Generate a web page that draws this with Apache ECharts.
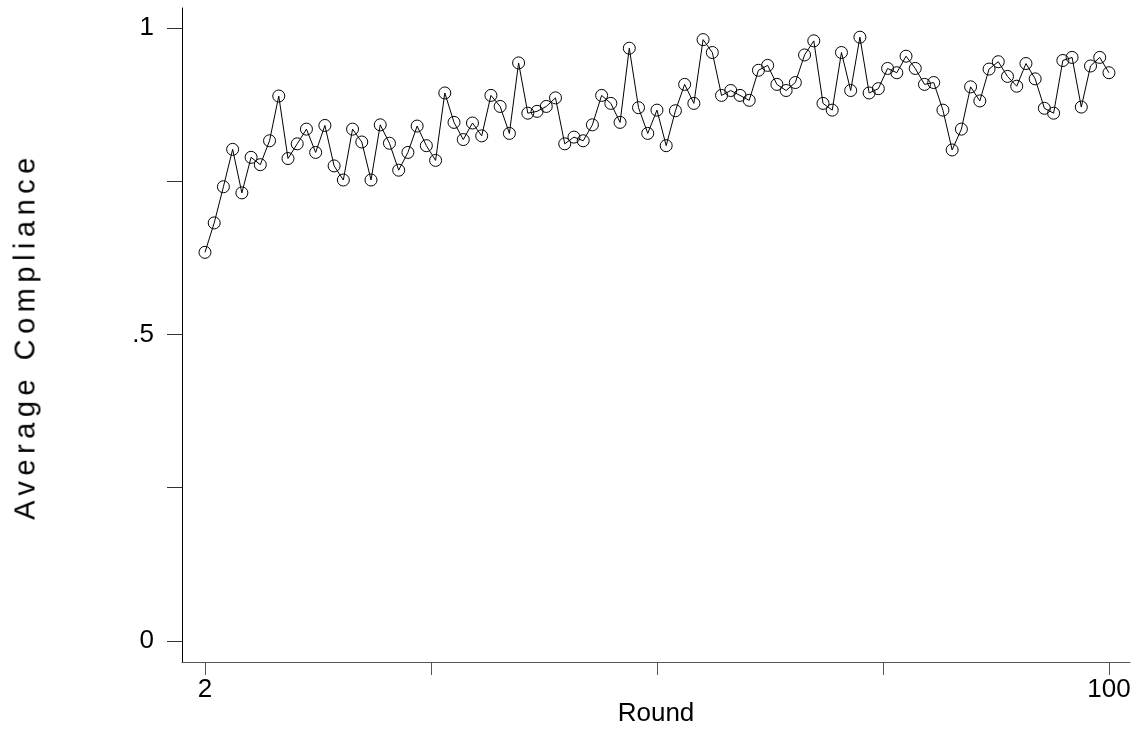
<!DOCTYPE html>
<html>
<head>
<meta charset="utf-8">
<script src="https://cdn.jsdelivr.net/npm/echarts@6/dist/echarts.min.js"></script>
<style>
	html, body { margin: 0; padding: 0; background: #fff; }
	#wrap { position: relative; width: 1140px; height: 733px; }
	#main { width: 1140px; height: 733px; }
	#ytitle {
		position: absolute; left: 25px; top: 336px;
		transform: translate(-50%, -50%) rotate(-90deg);
		font-family: 'Liberation Sans', Arial, sans-serif;
		font-size: 29px; letter-spacing: 5.5px; white-space: nowrap; color: #000;
	}
</style>
</head>
<body>
<div id="wrap">
	<div id="main"></div>
	<div id="ytitle">Average Compliance</div>
</div>
<script>
// rounds 2..100
var rounds = [];
for(var r = 2; r <= 100; r++) {
	rounds.push(r);
}
var compliance = [
	0.634, 0.682, 0.741, 0.802, 0.731, 0.789, 0.777, 0.816, 0.889, 0.787,
	0.811, 0.835, 0.797, 0.841, 0.775, 0.752, 0.835, 0.814, 0.752, 0.842,
	0.812, 0.768, 0.797, 0.840, 0.808, 0.784, 0.894, 0.846, 0.818, 0.845,
	0.824, 0.890, 0.872, 0.828, 0.943, 0.861, 0.864, 0.872, 0.886, 0.811,
	0.822, 0.816, 0.842, 0.890, 0.877, 0.846, 0.967, 0.870, 0.828, 0.866,
	0.808, 0.865, 0.908, 0.877, 0.981, 0.960, 0.890, 0.898, 0.890, 0.882,
	0.931, 0.939, 0.908, 0.898, 0.911, 0.956, 0.979, 0.877, 0.866, 0.960,
	0.898, 0.985, 0.894, 0.901, 0.934, 0.927, 0.954, 0.934, 0.908, 0.911,
	0.866, 0.801, 0.835, 0.904, 0.881, 0.933, 0.945, 0.921, 0.905, 0.942,
	0.917, 0.869, 0.861, 0.947, 0.952, 0.871, 0.938, 0.952, 0.927
];
var xTicks = [2, 26.5, 51, 75.5, 100];
var xLabels = [2, 100];
var yTicks = [0, 0.25, 0.5, 0.75, 1];
var yLabels = [0, 0.5, 1];

var font = "'Liberation Sans', Arial, sans-serif";
var points = [];
for(var i = 0; i < rounds.length; i++) {
	points.push([rounds[i], compliance[i]]);
}

var myChart = echarts.init(document.getElementById('main'));
var option = {
	animation: false,
	grid: { left: 182, right: 10, top: 8, bottom: 71, containLabel: false, outerBoundsMode: 'none' },
	xAxis: {
		type: 'value',
		min: -0.49,
		max: 102.28,
		name: 'Round',
		nameLocation: 'middle',
		nameGap: 39,
		nameMoveOverlap: false,
		nameTextStyle: { fontFamily: font, fontSize: 26, color: '#000' },
		axisLine: { onZero: false, lineStyle: { color: '#555', width: 1 } },
		axisTick: { customValues: xTicks, length: 13, lineStyle: { color: '#555' } },
		axisLabel: { customValues: xLabels, margin: 15, fontFamily: font, fontSize: 26, color: '#000' },
		splitLine: { show: false }
	},
	yAxis: {
		type: 'value',
		min: -0.0343,
		max: 1.0326,
		axisLine: { show: true, onZero: false, lineStyle: { color: '#000', width: 1 } },
		axisTick: { show: true, customValues: yTicks, length: 15, lineStyle: { color: '#333' } },
		axisLabel: {
			customValues: yLabels, margin: 28, fontFamily: font, fontSize: 26, color: '#000',
			formatter: function(v) {
				if(v === 0) return '0';
				if(v === 1) return '1';
				return String(v).replace(/^0/, '');
			}
		},
		splitLine: { show: false }
	},
	series: [{
		type: 'line',
		data: points,
		symbol: 'circle',
		symbolSize: 12,
		showSymbol: true,
		lineStyle: { color: '#000', width: 1 },
		itemStyle: { color: 'transparent', borderColor: '#000', borderWidth: 1 }
	}]
};
myChart.setOption(option);
</script>
</body>
</html>
